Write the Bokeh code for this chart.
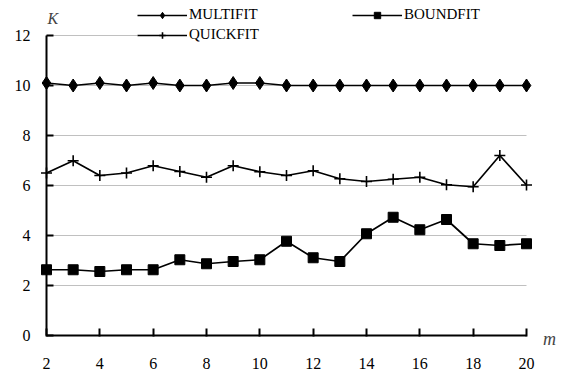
from bokeh.plotting import figure
from bokeh.models import Range1d, FixedTicker, Legend, LegendItem, Label
from bokeh.embed import file_html
from bokeh.resources import INLINE

m = list(range(2, 21))
multifit = [10.1, 10.0, 10.1, 10.0, 10.1, 10.0, 10.0, 10.1, 10.1, 10.0,
            10.0, 10.0, 10.0, 10.0, 10.0, 10.0, 10.0, 10.0, 10.0]
boundfit = [2.63, 2.63, 2.56, 2.63, 2.63, 3.03, 2.87, 2.96, 3.03, 3.77,
            3.11, 2.96, 4.07, 4.73, 4.23, 4.64, 3.67, 3.60, 3.67]
quickfit = [6.50, 6.99, 6.40, 6.50, 6.79, 6.56, 6.33, 6.79, 6.55, 6.40,
            6.59, 6.27, 6.16, 6.25, 6.33, 6.03, 5.95, 7.20, 6.02]
x_ticks = [2, 4, 6, 8, 10, 12, 14, 16, 18, 20]
y_ticks = [0, 2, 4, 6, 8, 10, 12]

FONT = "'Liberation Serif'"

# the frame covers the whole canvas; the axes are pinned at m=2 and K=0
p = figure(width=565, height=370, output_backend="svg", toolbar_location=None,
           x_range=Range1d(0.275, 21.4625), y_range=Range1d(-1.4, 13.4),
           min_border_left=0, min_border_right=0,
           min_border_top=0, min_border_bottom=0)
p.outline_line_color = None
p.background_fill_color = "white"
p.border_fill_color = "white"

p.xgrid.visible = False
p.ygrid.visible = False
grid_y = y_ticks[1:]
p.segment(x0=[x_ticks[0]] * len(grid_y), x1=[x_ticks[-1]] * len(grid_y),
          y0=grid_y, y1=grid_y, line_color="#c0c0c0", line_width=1)

for ax in (p.xaxis[0], p.yaxis[0]):
    ax.axis_line_color = "black"
    ax.axis_line_width = 2
    ax.major_tick_line_color = "black"
    ax.major_tick_line_width = 2
    ax.minor_tick_line_color = None
    ax.major_label_text_font = FONT
    ax.major_label_text_font_size = "16px"
    ax.major_label_text_color = "black"

p.xaxis.ticker = FixedTicker(ticks=x_ticks)
p.xaxis.bounds = (x_ticks[0], x_ticks[-1])
p.xaxis.fixed_location = y_ticks[0]
p.xaxis.major_tick_in = 7
p.xaxis.major_tick_out = 1
p.xaxis.major_label_standoff = 21
p.yaxis.ticker = FixedTicker(ticks=y_ticks)
p.yaxis.bounds = (y_ticks[0], y_ticks[-1])
p.yaxis.fixed_location = x_ticks[0]
p.yaxis.major_tick_in = 7
p.yaxis.major_tick_out = 0
p.yaxis.major_label_standoff = 16

lw = 1.7
r1l = p.line(m, multifit, line_color="black", line_width=lw)
r1m = p.scatter(m, multifit, marker="diamond", size=13,
                fill_color="black", line_color="black")
r2l = p.line(m, boundfit, line_color="black", line_width=lw)
r2m = p.scatter(m, boundfit, marker="square", size=10,
                fill_color="black", line_color="black")
r3l = p.line(m, quickfit, line_color="black", line_width=lw)
r3m = p.scatter(m, quickfit, marker="cross", size=11,
                line_color="black", line_width=1.6)

legend = Legend(items=[
    LegendItem(label="MULTIFIT", renderers=[r1l, r1m]),
    LegendItem(label="BOUNDFIT", renderers=[r2l, r2m]),
    LegendItem(label="QUICKFIT", renderers=[r3l, r3m]),
], orientation="horizontal", ncols=2,
    location=(137, 327), padding=0, margin=0, spacing=3,
    glyph_width=50, glyph_height=16, label_height=16, label_width=160,
    label_standoff=2, border_line_color=None,
    background_fill_color="white", background_fill_alpha=1.0,
    label_text_font=FONT, label_text_font_size="15px",
    label_text_color="black")
p.add_layout(legend, "center")

p.add_layout(Label(x=2, y=12.68, text="K", text_font=FONT,
                   text_font_style="italic", text_font_size="16px",
                   text_align="left", text_baseline="middle", x_offset=1))
p.add_layout(Label(x=20.86, y=-0.12, text="m", text_font=FONT,
                   text_font_style="italic", text_font_size="18px",
                   text_align="center", text_baseline="middle"))

open("out.html", "w").write(file_html(p, INLINE))
